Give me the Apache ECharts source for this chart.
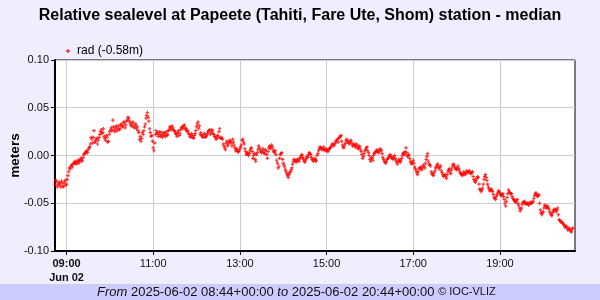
<!DOCTYPE html>
<html>
<head>
<meta charset="utf-8">
<script src="https://cdn.jsdelivr.net/npm/echarts@6/dist/echarts.min.js"></script>
<style>
html,body{margin:0;padding:0;background:#EEEEFF;}
#chart{width:600px;height:300px;}
</style>
</head>
<body>
<div id="chart"></div>
<script>
// sample times: minutes after midnight UTC, 2025-06-02; one reading per minute from 08:44
var startMinute = 524;
// relative sea level (m) at even minutes after 08:44 (08:44, 08:46, ...)
var sealevelEven = [
-0.030,-0.027,-0.031,-0.028,-0.033,-0.029,-0.032,-0.026,-0.030,-0.021,
-0.013,-0.011,-0.012,-0.008,-0.006,-0.008,-0.005,-0.006,-0.003,-0.005,
 0.001, 0.003, 0.005, 0.006, 0.009, 0.019, 0.013, 0.026, 0.015, 0.018,
 0.016, 0.022, 0.027, 0.024, 0.020, 0.016, 0.019, 0.015, 0.025, 0.029,
 0.037, 0.027, 0.029, 0.026, 0.031, 0.028, 0.033, 0.031, 0.034, 0.032,
 0.037, 0.039, 0.034, 0.031, 0.035, 0.029, 0.033, 0.030, 0.024, 0.020,
 0.018, 0.022, 0.030, 0.039, 0.045, 0.036, 0.024, 0.021, 0.008, 0.013,
 0.026, 0.024, 0.022, 0.020, 0.024, 0.021, 0.023, 0.025, 0.022, 0.027,
 0.029, 0.031, 0.027, 0.025, 0.022, 0.024, 0.021, 0.027, 0.030, 0.031,
 0.029, 0.028, 0.026, 0.022, 0.019, 0.021, 0.018, 0.023, 0.030, 0.035,
 0.031, 0.024, 0.020, 0.022, 0.019, 0.021, 0.025, 0.027, 0.024, 0.026,
 0.022, 0.019, 0.018, 0.020, 0.028, 0.019, 0.017, 0.010, 0.006, 0.015,
 0.012, 0.016, 0.013, 0.017, 0.011, 0.005, 0.006, 0.004, 0.007, 0.011,
 0.017, 0.012, 0.004, 0.002, 0.000, 0.005, 0.008,-0.003, 0.002,-0.006,
 0.003, 0.010, 0.006, 0.003, 0.007, 0.002, 0.005,-0.003, 0.008, 0.007,
 0.011, 0.006, 0.003, 0.001,-0.008,-0.011, 0.001, 0.003,-0.008,-0.012,
-0.017,-0.021,-0.020,-0.017,-0.013,-0.006,-0.005,-0.007,-0.004,-0.006,
-0.002, 0.001,-0.004,-0.007,-0.003,-0.002, 0.003, 0.001,-0.004,-0.006,
-0.003,-0.005, 0.002, 0.007, 0.008, 0.006, 0.009, 0.005, 0.006, 0.004,
 0.007, 0.009, 0.012, 0.010, 0.013, 0.016, 0.014, 0.019, 0.021, 0.011,
 0.008, 0.013, 0.017, 0.015, 0.012, 0.016, 0.010, 0.012, 0.009, 0.011,
 0.007, 0.009, 0.004,-0.003, 0.002, 0.006, 0.009, 0.003,-0.004,-0.002,
-0.005, 0.002, 0.004, 0.006, 0.003, 0.007, 0.005,-0.002,-0.006,-0.008,
-0.004,-0.002, 0.001,-0.002,-0.004, 0.000,-0.005,-0.009,-0.004,-0.007,
-0.003, 0.002, 0.001, 0.008,-0.001, 0.001,-0.006,-0.009,-0.005,-0.012,
-0.016,-0.020,-0.014,-0.012,-0.015,-0.010,-0.013,-0.004, 0.002,-0.009,
-0.011,-0.019,-0.021,-0.016,-0.012,-0.009,-0.014,-0.011,-0.018,-0.022,
-0.020,-0.024,-0.017,-0.014,-0.019,-0.012,-0.009,-0.013,-0.015,-0.011,
-0.016,-0.019,-0.021,-0.017,-0.020,-0.016,-0.018,-0.016,-0.019,-0.017,
-0.025,-0.028,-0.024,-0.023,-0.035,-0.038,-0.034,-0.025,-0.020,-0.026,
-0.033,-0.037,-0.035,-0.038,-0.044,-0.046,-0.041,-0.037,-0.039,-0.042,
-0.040,-0.046,-0.053,-0.044,-0.036,-0.039,-0.040,-0.045,-0.047,-0.049,
-0.046,-0.052,-0.058,-0.055,-0.049,-0.048,-0.051,-0.050,-0.052,-0.049,
-0.050,-0.048,-0.042,-0.039,-0.043,-0.041,-0.057,-0.062,-0.059,-0.052,
-0.055,-0.053,-0.056,-0.061,-0.063,-0.058,-0.056,-0.059,-0.055,-0.067,
-0.069,-0.070,-0.072,-0.075,-0.074,-0.078,-0.076,-0.079,-0.077
];
// relative sea level (m) at odd minutes after 08:44 (08:45, 08:47, ...)
var sealevelOdd = [
-0.026,-0.033,-0.029,-0.031,-0.027,-0.033,-0.028,-0.031,-0.025,-0.017,
-0.014,-0.010,-0.009,-0.007,-0.009,-0.006,-0.008,-0.004,-0.006,-0.002,
 0.002, 0.004, 0.003, 0.008, 0.012, 0.017, 0.019, 0.014, 0.017, 0.012,
 0.019, 0.025, 0.023, 0.028, 0.018, 0.021, 0.014, 0.022, 0.027, 0.026,
 0.030, 0.025, 0.031, 0.028, 0.027, 0.032, 0.030, 0.035, 0.029, 0.036,
 0.040, 0.036, 0.032, 0.034, 0.030, 0.032, 0.028, 0.026, 0.017, 0.015,
 0.024, 0.026, 0.033, 0.042, 0.040, 0.028, 0.020, 0.015, 0.005, 0.022,
 0.023, 0.020, 0.025, 0.022, 0.019, 0.024, 0.020, 0.021, 0.026, 0.030,
 0.027, 0.029, 0.026, 0.023, 0.020, 0.026, 0.023, 0.029, 0.028, 0.032,
 0.027, 0.025, 0.023, 0.020, 0.023, 0.019, 0.021, 0.026, 0.033, 0.028,
 0.022, 0.021, 0.019, 0.023, 0.020, 0.023, 0.026, 0.022, 0.027, 0.023,
 0.020, 0.017, 0.021, 0.025, 0.018, 0.018, 0.012, 0.008, 0.013, 0.010,
 0.014, 0.015, 0.010, 0.014, 0.008, 0.007, 0.004, 0.005, 0.009, 0.016,
 0.014, 0.007, 0.001, 0.003, 0.002, 0.007, 0.004, 0.000,-0.004, 0.001,
 0.006, 0.008, 0.004, 0.005, 0.003, 0.006, 0.001, 0.004, 0.010, 0.009,
 0.009, 0.004, 0.005,-0.005,-0.013,-0.003, 0.002,-0.004,-0.010,-0.015,
-0.019,-0.023,-0.018,-0.015,-0.009,-0.004,-0.006,-0.005,-0.005,-0.003,
 0.000,-0.002,-0.006,-0.005,-0.001, 0.001, 0.002,-0.002,-0.005,-0.004,
-0.006, 0.000, 0.005, 0.009, 0.007, 0.007, 0.006, 0.007, 0.005, 0.006,
 0.008, 0.011, 0.011, 0.012, 0.015, 0.017, 0.018, 0.020, 0.015, 0.009,
 0.011, 0.016, 0.014, 0.013, 0.015, 0.013, 0.011, 0.010, 0.012, 0.008,
 0.010, 0.006, 0.001,-0.001, 0.005, 0.008, 0.005, 0.000,-0.006,-0.003,
 0.000, 0.003, 0.005, 0.004, 0.005, 0.006, 0.002,-0.004,-0.007,-0.006,
-0.003, 0.000,-0.001,-0.003,-0.002,-0.003,-0.007,-0.006,-0.006,-0.005,
 0.000, 0.003, 0.004, 0.003, 0.000,-0.003,-0.008,-0.007,-0.008,-0.014,
-0.018,-0.017,-0.013,-0.014,-0.012,-0.011,-0.008,-0.001,-0.006,-0.010,
-0.017,-0.020,-0.018,-0.013,-0.010,-0.012,-0.012,-0.016,-0.020,-0.021,
-0.022,-0.020,-0.015,-0.017,-0.015,-0.010,-0.011,-0.014,-0.013,-0.014,
-0.018,-0.020,-0.019,-0.019,-0.018,-0.017,-0.017,-0.018,-0.018,-0.022,
-0.027,-0.026,-0.022,-0.030,-0.036,-0.036,-0.030,-0.022,-0.023,-0.030,
-0.035,-0.036,-0.037,-0.041,-0.045,-0.043,-0.039,-0.038,-0.041,-0.041,
-0.043,-0.050,-0.048,-0.040,-0.038,-0.040,-0.043,-0.046,-0.048,-0.047,
-0.050,-0.055,-0.056,-0.051,-0.049,-0.050,-0.050,-0.051,-0.050,-0.050,
-0.049,-0.045,-0.040,-0.041,-0.042,-0.050,-0.060,-0.060,-0.055,-0.053,
-0.054,-0.055,-0.059,-0.062,-0.060,-0.057,-0.057,-0.057,-0.062,-0.068,
-0.070,-0.071,-0.073,-0.074,-0.076,-0.077,-0.078,-0.080,-0.076
];
var xTickMinutes = [540, 660, 780, 900, 1020, 1140];
var axisMinMinute = 524, axisMaxMinute = 1244;
var legendName = 'rad (-0.58m)';
var titleText = 'Relative sealevel at Papeete (Tahiti, Fare Ute, Shom) station - median';

var points = [];
sealevelEven.forEach(function (v, i) { points.push([startMinute + 2 * i, v]); });
sealevelOdd.forEach(function (v, i) { points.push([startMinute + 2 * i + 1, v]); });
points.sort(function (a, b) { return a[0] - b[0]; });
function pad(n){ return (n < 10 ? '0' : '') + n; }
function hhmm(m){ return pad(Math.floor(m / 60)) + ':' + pad(m % 60); }

var plus = 'path://M1,0L2,0L2,1L3,1L3,2L2,2L2,3L1,3L1,2L0,2L0,1L1,1Z';
var chart = echarts.init(document.getElementById('chart'), null, {renderer: 'canvas'});
chart.setOption({
  animation: false,
  backgroundColor: '#EEEEFF',
  textStyle: {fontFamily: 'Liberation Sans, Arial, sans-serif'},
  title: {
    text: titleText, left: 'center', top: 3,
    textStyle: {fontSize: 16, fontWeight: 'bold', color: '#000', fontFamily: 'Liberation Sans, Arial, sans-serif'}
  },
  legend: {
    left: 61, top: 40, itemWidth: 4, itemHeight: 4, icon: plus,
    textStyle: {fontSize: 12, color: '#000', padding: [0, 0, 0, 2]},
    data: [legendName]
  },
  grid: {left: 55, right: 25, top: 60, bottom: 49, outerBoundsMode: 'none', containLabel: false,
         show: true, backgroundColor: '#FFFFFF', borderColor: '#000', borderWidth: 1},
  xAxis: {
    type: 'value', min: axisMinMinute, max: axisMaxMinute,
    axisLine: {show: true, onZero: false, lineStyle: {color: '#000', width: 2}},
    axisTick: {show: true, length: 4, customValues: xTickMinutes, lineStyle: {color: '#000'}},
    axisLabel: {
      customValues: xTickMinutes, fontSize: 11, color: '#111', margin: 6, lineHeight: 14,
      formatter: function (v) {
        if (v === xTickMinutes[0]) return '{b|' + hhmm(v) + '}\n{b|Jun 02}';
        return hhmm(v);
      },
      rich: {b: {fontWeight: 'bold', fontSize: 11, color: '#111', lineHeight: 14}}
    },
    splitLine: {show: true, lineStyle: {color: '#CCCCCC', width: 1}}
  },
  yAxis: {
    type: 'value', min: -0.1, max: 0.1, interval: 0.05,
    name: 'meters', nameLocation: 'middle', nameGap: 33, nameMoveOverlap: false,
    nameTextStyle: {fontSize: 13.5, fontWeight: 'bold', color: '#000'},
    axisLine: {show: true, lineStyle: {color: '#000', width: 2}},
    axisTick: {show: true, length: 4, lineStyle: {color: '#000'}},
    axisLabel: {fontSize: 11, color: '#111', margin: 6, formatter: function (v) { return v.toFixed(2); }},
    splitLine: {show: true, lineStyle: {color: '#CCCCCC', width: 1}}
  },
  series: [{
    name: legendName, type: 'scatter', data: points,
    symbol: plus, symbolSize: 3.5,
    itemStyle: {color: '#FF0000'}
  }],
  graphic: [
    {type: 'rect', left: 0, top: 284, shape: {x: 0, y: 0, width: 600, height: 16}, style: {fill: '#CCCCFF'}, z: -1},
    {type: 'text', left: 97, top: 284, style: {
      text: '{i|From} 2025-06-02 08:44+00:00 {i|to} 2025-06-02 20:44+00:00 {s|© IOC-VLIZ}',
      fontSize: 13, fill: '#111', fontFamily: 'Liberation Sans, Arial, sans-serif', lineHeight: 16,
      rich: {i: {fontStyle: 'italic', fontSize: 13, fill: '#111', lineHeight: 16}, s: {fontSize: 11, fill: '#111', lineHeight: 16}}
    }}
  ]
});
</script>
</body>
</html>
